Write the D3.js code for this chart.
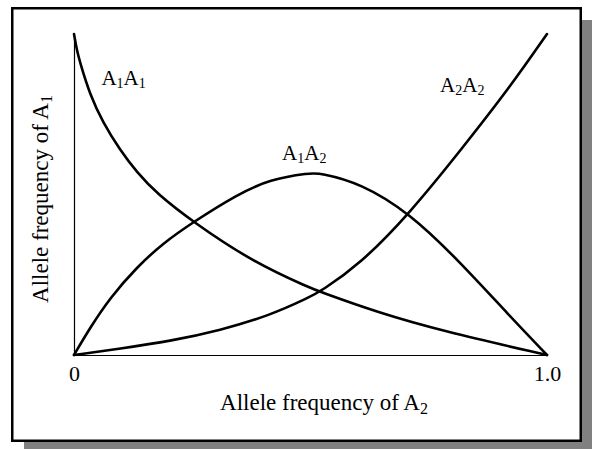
<!DOCTYPE html>
<html>
<head>
<meta charset="utf-8">
<script src="https://cdn.jsdelivr.net/npm/d3@7"></script>
<style>
  body { margin: 0; background: #fff; }
  text { font-family: "Liberation Serif", "DejaVu Serif", serif; fill: #000; }
</style>
</head>
<body>
<div id="app"></div>
<script>
// genotype frequencies, as [allele freq of A2, genotype freq]
const a1a1 = [[0, 1.0], [0.006, 0.95], [0.013, 0.91], [0.034, 0.81], [0.061, 0.725], [0.097, 0.639],
  [0.133, 0.569], [0.175, 0.503], [0.252, 0.414], [0.378, 0.29], [0.499, 0.209],
  [0.52, 0.197], [0.641, 0.133], [0.78, 0.074], [1.0, 0]]
const a1a2 = [[0, 0], [0.034, 0.085], [0.076, 0.178], [0.133, 0.274], [0.188, 0.348],
  [0.252, 0.414], [0.345, 0.5], [0.414, 0.547], [0.499, 0.567], [0.52, 0.567],
  [0.605, 0.536], [0.71, 0.442], [0.816, 0.29], [0.922, 0.12], [1.0, 0]]
const a2a2 = [[0, 0], [0.097, 0.02], [0.203, 0.043], [0.309, 0.077], [0.414, 0.123],
  [0.499, 0.181], [0.52, 0.197], [0.605, 0.283], [0.71, 0.442], [0.816, 0.635],
  [0.922, 0.835], [1.0, 1.0]]

const xTicks = [0, 1]
const xTickLabels = ['0', '1.0']

// curve labels: main letter + subscript pairs, anchored at a data position
const curveLabels = [
  {parts: [['A', '1'], ['A', '1']], q: 0.058, f: 0.841},
  {parts: [['A', '1'], ['A', '2']], q: 0.44, f: 0.607},
  {parts: [['A', '2'], ['A', '2']], q: 0.774, f: 0.818}
]

const W = 592, H = 449
const svg = d3.select('#app').append('svg').attr('width', W).attr('height', H)

// frame with drop shadow
svg.append('rect').attr('x', 24).attr('y', 20).attr('width', 568).attr('height', 429).style('fill', '#808080')
svg.append('rect').attr('x', 12.25).attr('y', 8.25).attr('width', 568.5).attr('height', 432.5)
  .style('fill', '#fff').style('stroke', '#000').style('stroke-width', 2.5)

const x = d3.scaleLinear().domain([0, 1]).range([74, 547])
const y = d3.scaleLinear().domain([0, 1]).range([355, 34])

// axes: plain lines, only the two end labels
const xAxis = d3.axisBottom(x).tickValues(xTicks).tickFormat((d, i) => xTickLabels[i])
  .tickSize(0).tickPadding(10)
const gx = svg.append('g').attr('transform', `translate(0,${y(0)})`).call(xAxis)
gx.select('.domain').style('stroke-width', 1.2)
gx.selectAll('text').style('font-family', '"Liberation Serif", serif').style('font-size', '22px')
  .attr('dy', '0.71em')

const yAxis = d3.axisLeft(y).tickValues([]).tickSizeOuter(0)
const gy = svg.append('g').attr('transform', `translate(${x(0)},0)`).call(yAxis)
gy.select('.domain').style('stroke-width', 1.2)

// curves
const line = d3.line().x(d => x(d[0])).y(d => y(d[1])).curve(d3.curveBasis)
svg.selectAll('path.curve').data([a1a1, a1a2, a2a2]).enter().append('path')
  .attr('class', 'curve').attr('d', line)
  .style('fill', 'none').style('stroke', '#000').style('stroke-width', 2.6)
  .style('stroke-linejoin', 'round').style('stroke-linecap', 'round')

// text with subscripts
const subText = (sel, parts, size) => {
  parts.forEach(p => {
    sel.append('tspan').text(p[0])
    sel.append('tspan').text(p[1]).style('font-size', Math.round(size * 0.68) + 'px')
      .attr('baseline-shift', '-22%')
  })
}

curveLabels.forEach(l => {
  const t = svg.append('text').attr('x', x(l.q)).attr('y', y(l.f)).style('font-size', '21px')
  subText(t, l.parts, 21)
})

const xl = svg.append('text').attr('x', 324).attr('y', 410).attr('text-anchor', 'middle').style('font-size', '23px')
xl.append('tspan').text('Allele frequency of ')
subText(xl, [['A', '2']], 23)

const yl = svg.append('text').attr('transform', 'translate(48,199) rotate(-90)')
  .attr('text-anchor', 'middle').style('font-size', '23px')
yl.append('tspan').text('Allele frequency of ')
subText(yl, [['A', '1']], 23)
</script>
</body>
</html>
